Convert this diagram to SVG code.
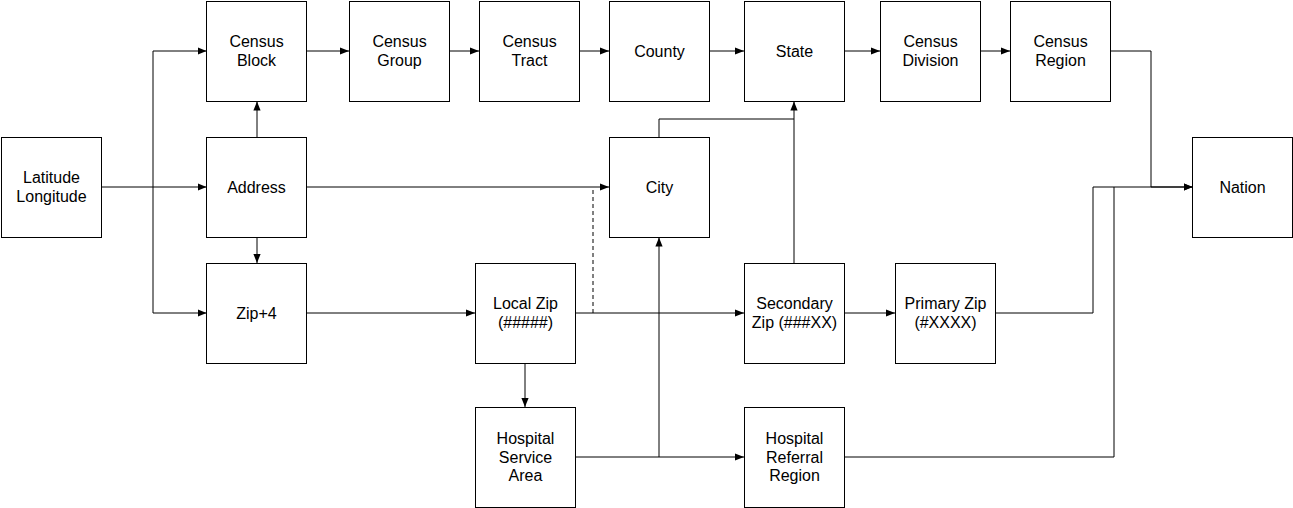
<svg xmlns="http://www.w3.org/2000/svg" width="1293" height="508" viewBox="0 0 1293 508">
<style>
.n rect{fill:#fff;stroke:#000;stroke-width:1}
.n text{font-family:"Liberation Sans",Arial,sans-serif;font-size:16px;fill:#000;text-anchor:middle}
.e path{fill:none;stroke:#000;stroke-width:1}
.e .d{stroke-dasharray:4 3}
</style>
<defs>
<marker id="a" viewBox="0 0 10 10" refX="10" refY="5" markerWidth="9" markerHeight="9" markerUnits="userSpaceOnUse" orient="auto">
<path d="M0,1 L10,5 L0,9 Z" fill="#000"/>
</marker>
</defs>
<rect width="1293" height="508" fill="#fff"/>
<g class="e">
<path d="M101.5,187 H206.5" marker-end="url(#a)"/>
<path d="M153,187 V51 H206.5" marker-end="url(#a)"/>
<path d="M153,187 V313 H206.5" marker-end="url(#a)"/>
<path d="M257,137 V101.5" marker-end="url(#a)"/>
<path d="M257,237 V263" marker-end="url(#a)"/>
<path d="M307,51 H349" marker-end="url(#a)"/>
<path d="M449.5,51 H479" marker-end="url(#a)"/>
<path d="M579.5,51 H609" marker-end="url(#a)"/>
<path d="M709.5,51 H744" marker-end="url(#a)"/>
<path d="M844.5,51 H880" marker-end="url(#a)"/>
<path d="M980,51 H1010" marker-end="url(#a)"/>
<path d="M1110,51 H1151 V187 H1192.5" marker-end="url(#a)"/>
<path d="M307,187 H609" marker-end="url(#a)"/>
<path d="M307,313 H475" marker-end="url(#a)"/>
<path d="M575.5,313 H744" marker-end="url(#a)"/>
<path class="d" d="M593,313 V187"/>
<path d="M525,363.5 V407" marker-end="url(#a)"/>
<path d="M575.5,457 H744" marker-end="url(#a)"/>
<path d="M659,457 V237.5" marker-end="url(#a)"/>
<path d="M659,137 V119 H794 V101.5" marker-end="url(#a)"/>
<path d="M794,263 V119"/>
<path d="M844.5,313 H895" marker-end="url(#a)"/>
<path d="M995.5,313 H1093 V187 H1192.5" marker-end="url(#a)"/>
<path d="M844.5,457 H1114 V187"/>
</g>
<g id="latlong" class="n"><rect x="1.5" y="137.5" width="100" height="100"/><text x="51.5" y="183">Latitude</text><text x="51.5" y="202">Longitude</text></g>
<g id="censusblock" class="n"><rect x="206.5" y="1.5" width="100" height="100"/><text x="256.5" y="47">Census</text><text x="256.5" y="66">Block</text></g>
<g id="address" class="n"><rect x="206.5" y="137.5" width="100" height="100"/><text x="256.5" y="193">Address</text></g>
<g id="zip4" class="n"><rect x="206.5" y="263.5" width="100" height="100"/><text x="256.5" y="319">Zip+4</text></g>
<g id="censusgroup" class="n"><rect x="349.5" y="1.5" width="100" height="100"/><text x="399.5" y="47">Census</text><text x="399.5" y="66">Group</text></g>
<g id="censustract" class="n"><rect x="479.5" y="1.5" width="100" height="100"/><text x="529.5" y="47">Census</text><text x="529.5" y="66">Tract</text></g>
<g id="county" class="n"><rect x="609.5" y="1.5" width="100" height="100"/><text x="659.5" y="57">County</text></g>
<g id="state" class="n"><rect x="744.5" y="1.5" width="100" height="100"/><text x="794.5" y="57">State</text></g>
<g id="censusdivision" class="n"><rect x="880.5" y="1.5" width="100" height="100"/><text x="930.5" y="47">Census</text><text x="930.5" y="66">Division</text></g>
<g id="censusregion" class="n"><rect x="1010.5" y="1.5" width="100" height="100"/><text x="1060.5" y="47">Census</text><text x="1060.5" y="66">Region</text></g>
<g id="nation" class="n"><rect x="1192.5" y="137.5" width="100" height="100"/><text x="1242.5" y="193">Nation</text></g>
<g id="city" class="n"><rect x="609.5" y="137.5" width="100" height="100"/><text x="659.5" y="193">City</text></g>
<g id="localzip" class="n"><rect x="475.5" y="263.5" width="100" height="100"/><text x="525.5" y="309">Local Zip</text><text x="525.5" y="328">(#####)</text></g>
<g id="secondaryzip" class="n"><rect x="744.5" y="263.5" width="100" height="100"/><text x="794.5" y="309">Secondary</text><text x="794.5" y="328">Zip (###XX)</text></g>
<g id="primaryzip" class="n"><rect x="895.5" y="263.5" width="100" height="100"/><text x="945.5" y="309">Primary Zip</text><text x="945.5" y="328">(#XXXX)</text></g>
<g id="hsa" class="n"><rect x="475.5" y="407.5" width="100" height="100"/><text x="525.5" y="444">Hospital</text><text x="525.5" y="463">Service</text><text x="525.5" y="481">Area</text></g>
<g id="hrr" class="n"><rect x="744.5" y="407.5" width="100" height="100"/><text x="794.5" y="444">Hospital</text><text x="794.5" y="463">Referral</text><text x="794.5" y="481">Region</text></g>
</svg>
